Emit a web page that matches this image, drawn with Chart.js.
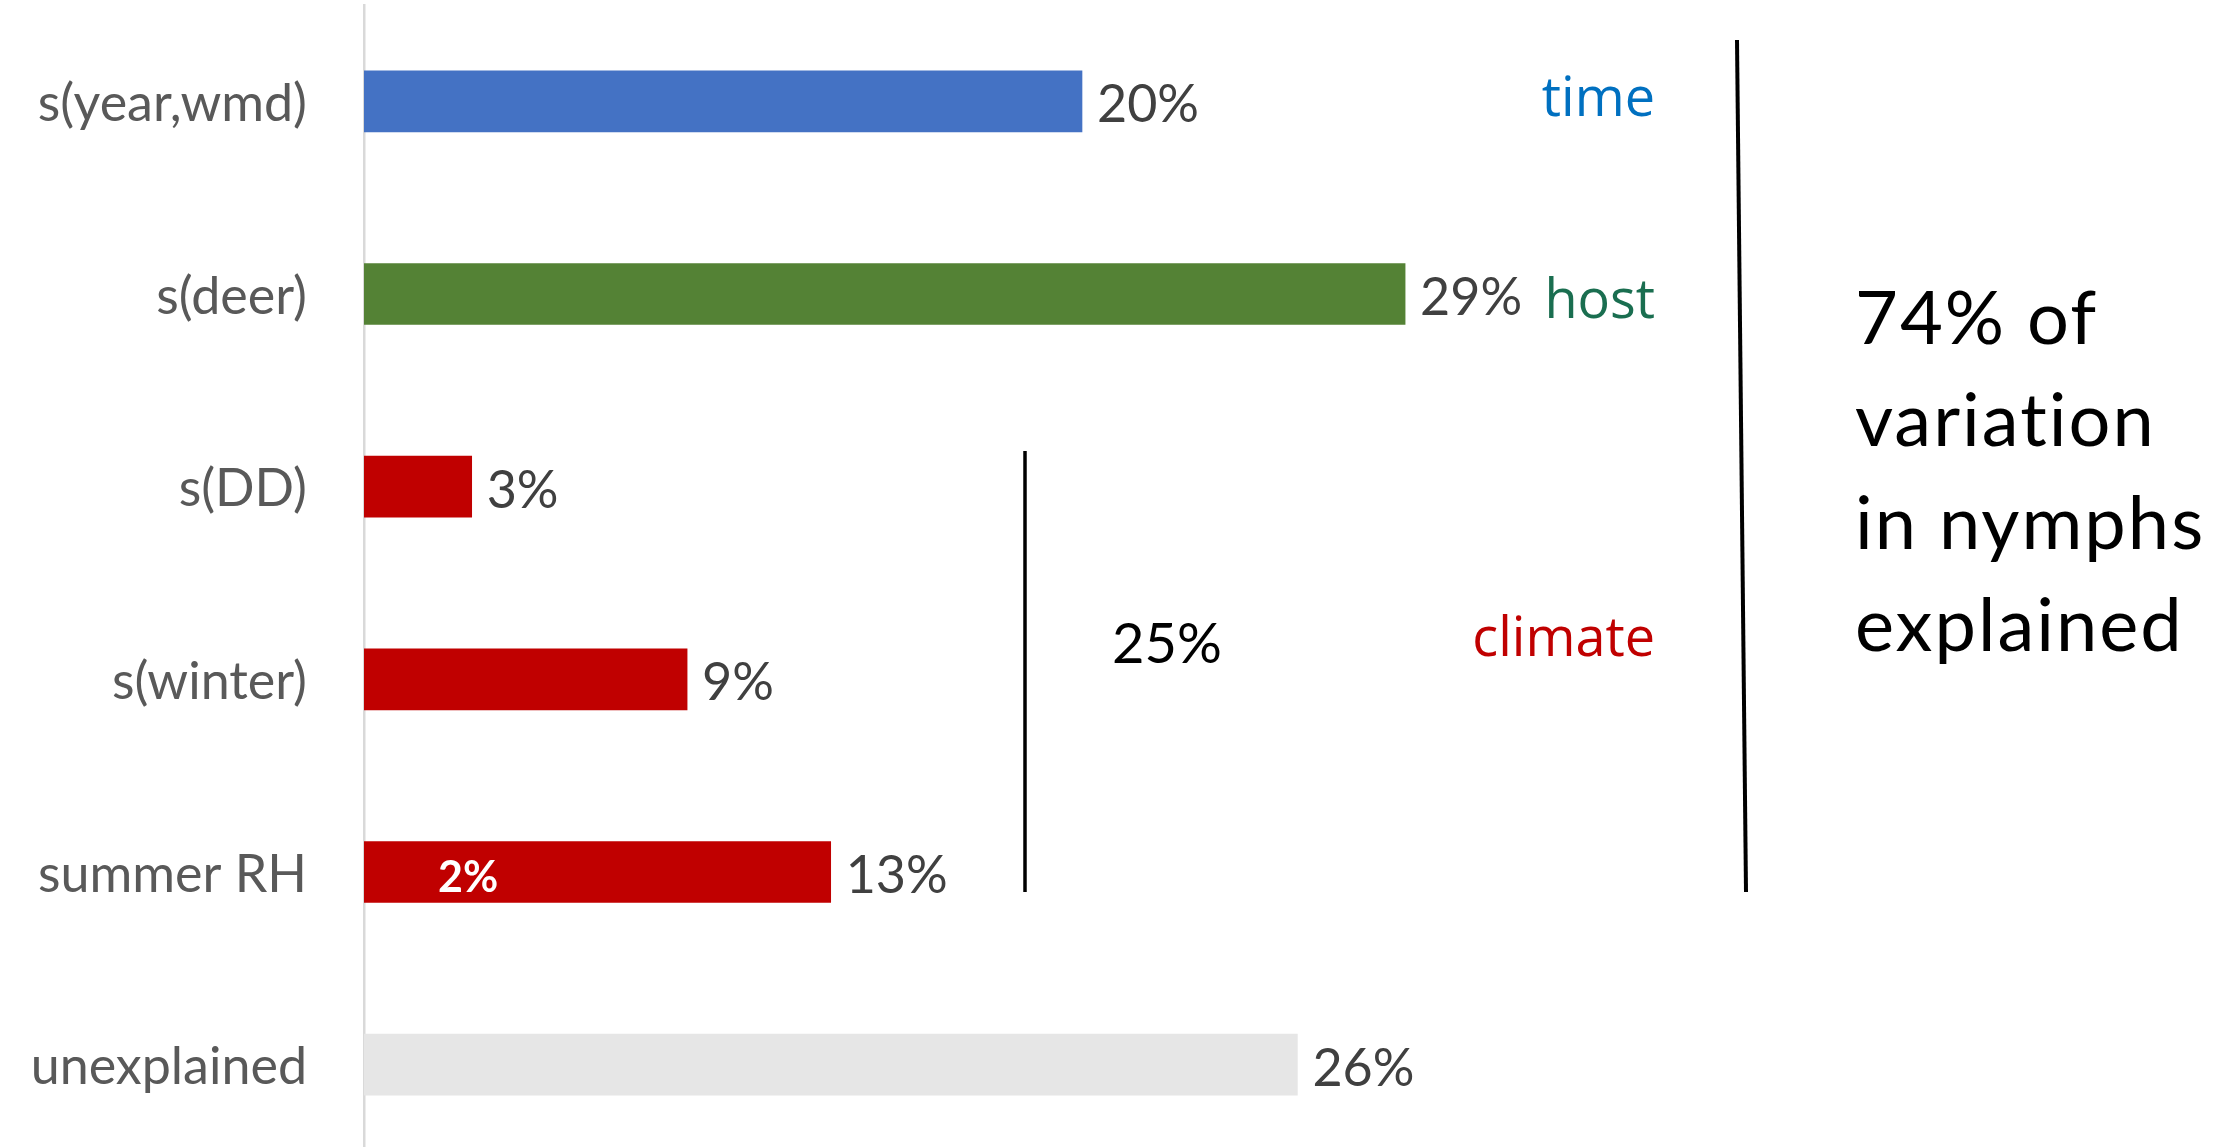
<html>
<script src="https://cdn.jsdelivr.net/npm/chart.js@4/dist/chart.umd.min.js"></script>
<style>
  body { margin: 0; overflow: hidden; background: #fff; }
</style>
<body>

    <canvas id="myChart" width="2238" height="1161"></canvas>

    <script>
        // chart data
        const categories = ['s(year,wmd)', 's(deer)', 's(DD)', 's(winter)', 'summer RH', 'unexplained'];
        const values = [20, 29, 3, 9, 13, 26];
        const barColors = ['#4472C4', '#548235', '#C00000', '#C00000', '#C00000', '#E6E6E6'];
        const innerLabels = ['', '', '', '', '2%', ''];
        const groupLabels = ['time', 'host', 'climate'];
        const groupColors = ['#0070C0', '#1A6E50', '#C00000'];
        const climateShare = '25%';
        const summaryLines = ['74% of', 'variation', 'in nymphs', 'explained'];

        // value labels at bar ends + the white label inside summer RH
        const barLabels = {
            id: 'barLabels',
            afterDatasetsDraw(chart) {
                const ctx = chart.ctx;
                const meta = chart.getDatasetMeta(0);
                ctx.save();
                ctx.textBaseline = 'alphabetic';
                meta.data.forEach((bar, i) => {
                    ctx.font = '52px Lato';
                    ctx.fillStyle = '#404040';
                    ctx.textAlign = 'left';
                    ctx.fillText(values[i] + '%', bar.x + 15, bar.y + 21);
                    if (innerLabels[i]) {
                        ctx.font = 'bold 43px Lato';
                        ctx.fillStyle = '#fff';
                        ctx.fillText(innerLabels[i], bar.base + 74, bar.y + 20);
                    }
                });
                ctx.restore();
            }
        };

        // side notes: group names, brackets, totals
        const notes = {
            id: 'notes',
            afterDraw(chart) {
                const ctx = chart.ctx;
                ctx.save();

                ctx.font = '54px "Open Sans"';
                ctx.textAlign = 'right';
                ctx.textBaseline = 'alphabetic';
                const gy = [116, 318, 656];
                groupLabels.forEach((t, i) => {
                    ctx.fillStyle = groupColors[i];
                    ctx.fillText(t, 1655, gy[i]);
                });

                ctx.strokeStyle = '#000';
                ctx.lineWidth = 3.5;
                ctx.beginPath();
                ctx.moveTo(1025, 451);
                ctx.lineTo(1025, 892);
                ctx.stroke();

                ctx.lineWidth = 4;
                ctx.beginPath();
                ctx.moveTo(1737, 40);
                ctx.lineTo(1746, 892);
                ctx.stroke();

                ctx.fillStyle = '#000';
                ctx.textAlign = 'left';
                ctx.font = '56px Lato';
                ctx.fillText(climateShare, 1112, 663);

                ctx.font = '74px Lato';
                ctx.letterSpacing = '2px';
                summaryLines.forEach((t, i) => {
                    ctx.fillText(t, 1855, 344 + i * 102.4);
                });
                ctx.restore();
            }
        };

        new Chart('myChart', {
            type: 'bar',
            data: {
                labels: categories,
                datasets: [{
                    data: values,
                    backgroundColor: barColors,
                    barThickness: 61
                }]
            },
            plugins: [barLabels, notes],
            options: {
                indexAxis: 'y',
                responsive: false,
                animation: false,
                layout: { padding: { top: 5, right: 79, left: 0, bottom: 0 } },
                plugins: {
                    legend: { display: false },
                    tooltip: { enabled: false }
                },
                scales: {
                    x: {
                        display: false,
                        min: 0,
                        max: 50
                    },
                    y: {
                        afterFit(scale) {
                            scale.width = 364;
                            scale.paddingTop = 0;
                            scale.paddingBottom = 0;
                        },
                        grid: { display: false, drawTicks: false, tickLength: 0 },
                        border: { display: true, color: '#D9D9D9', width: 2.5 },
                        ticks: {
                            color: '#595959',
                            font: { family: 'Lato', size: 52 },
                            padding: 57,
                            labelOffset: 3
                        }
                    }
                }
            }
        });
    </script>

</body>

</html>
